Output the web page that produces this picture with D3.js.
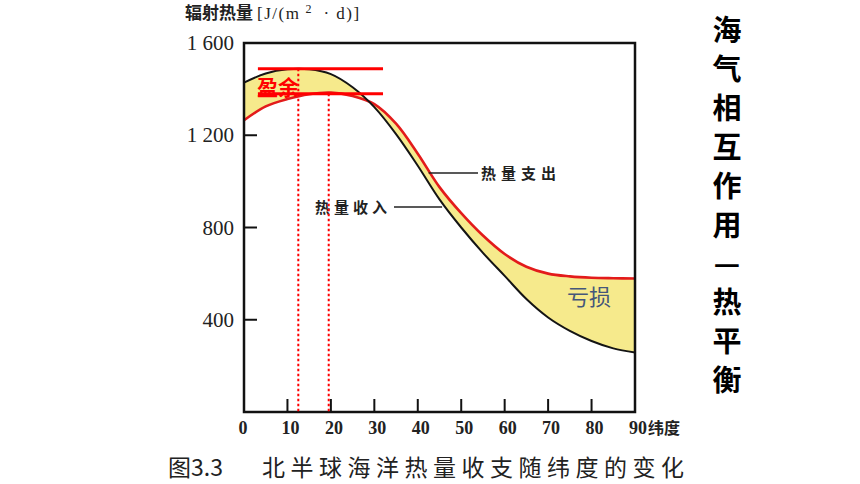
<!DOCTYPE html>
<html>
<head>
<meta charset="utf-8">
<script src="https://cdn.jsdelivr.net/npm/d3@7"></script>
<style>
  body { margin: 0; background: #fff; }
  svg { display: block; }
</style>
</head>
<body>
<div id="chart"></div>
<script>
// latitudes and the two curves
var latitudes = [0, 5, 10, 15, 20, 25, 30, 35, 40, 45, 50, 55, 60, 65, 70, 75, 80, 85, 90];
var income =      [1428, 1468, 1486, 1486, 1465, 1408, 1322, 1205, 1068, 922, 800, 690, 590, 490, 410, 352, 308, 276, 258];
var expenditure = [1265, 1325, 1357, 1378, 1385, 1370, 1335, 1250, 1120, 975, 862, 765, 685, 630, 600, 588, 582, 580, 579];

var xTicks = [0, 10, 20, 30, 40, 50, 60, 70, 80, 90];
var yTicks = [400, 800, 1200, 1600];
var yTickLabels = ["400", "800", "1 200", "1 600"];

// surplus markers (peak values and latitudes)
var peakIncome = 1488, peakIncomeLat = 12.5;
var peakExpend = 1380, peakExpendLat = 19.5;
var markerSpan = [3.2, 32];

var titleChars = ["海", "气", "相", "互", "作", "用", "—", "热", "平", "衡"];

let width = 860, height = 484;

let svg = d3.select("#chart").append("svg")
    .attr("width", width)
    .attr("height", height);

let x = d3.scaleLinear().domain([0, 90]).range([244, 635]);
let y = d3.scaleLinear().domain([0, 1600]).range([412, 43]);

let rows = latitudes.map((lat, i) => ({lat: lat, inc: income[i], exp: expenditure[i]}));
let curve = d3.curveCatmullRom.alpha(0.5);

// yellow band between the curves
svg.append("path")
    .datum(rows)
    .attr("fill", "#f6ea8c")
    .attr("d", d3.area()
        .x(d => x(d.lat))
        .y0(d => y(d.exp))
        .y1(d => y(d.inc))
        .curve(curve));

// heat expenditure (red)
svg.append("path")
    .datum(rows)
    .attr("fill", "none")
    .attr("stroke", "#e31b1b")
    .attr("stroke-width", 2.6)
    .attr("d", d3.line().x(d => x(d.lat)).y(d => y(d.exp)).curve(curve));

// heat income (black)
svg.append("path")
    .datum(rows)
    .attr("fill", "none")
    .attr("stroke", "#141414")
    .attr("stroke-width", 2)
    .attr("d", d3.line().x(d => x(d.lat)).y(d => y(d.inc)).curve(curve));

// frame
svg.append("rect")
    .attr("x", x(0))
    .attr("y", y(1600))
    .attr("width", x(90) - x(0))
    .attr("height", y(0) - y(1600))
    .attr("fill", "none")
    .attr("stroke", "#111")
    .attr("stroke-width", 2.5);

// inner ticks
svg.append("g").selectAll("line")
    .data(xTicks.slice(1, -1))
    .enter().append("line")
    .attr("x1", d => x(d)).attr("x2", d => x(d))
    .attr("y1", y(0)).attr("y2", y(0) - 13)
    .attr("stroke", "#111").attr("stroke-width", 2);

svg.append("g").selectAll("line")
    .data(yTicks.slice(0, -1))
    .enter().append("line")
    .attr("x1", x(0)).attr("x2", x(0) + 13)
    .attr("y1", d => y(d)).attr("y2", d => y(d))
    .attr("stroke", "#111").attr("stroke-width", 2);

// tick labels
svg.append("g").selectAll("text")
    .data(xTicks)
    .enter().append("text")
    .attr("x", d => x(d) + (d == 0 ? -1 : 3))
    .attr("y", 434)
    .attr("text-anchor", "middle")
    .attr("font-family", "Liberation Serif, serif")
    .attr("font-weight", "bold")
    .attr("font-size", 18)
    .attr("fill", "#222")
    .text(d => d);

svg.append("text")
    .attr("x", x(90) + 13)
    .attr("y", 434)
    .attr("font-family", "Noto Sans CJK SC, sans-serif")
    .attr("font-weight", "bold")
    .attr("font-size", 16)
    .attr("fill", "#222")
    .text("纬度");

svg.append("g").selectAll("text")
    .data(yTicks)
    .enter().append("text")
    .attr("x", 234)
    .attr("y", d => y(d) + 7)
    .attr("text-anchor", "end")
    .attr("font-family", "Liberation Serif, serif")
    .attr("font-size", 21)
    .attr("fill", "#222")
    .text((d, i) => yTickLabels[i]);

// y axis title
let yTitle = svg.append("text")
    .attr("x", 185)
    .attr("y", 19)
    .attr("fill", "#222");
yTitle.append("tspan")
    .attr("font-family", "Noto Sans CJK SC, sans-serif")
    .attr("font-weight", "bold")
    .attr("font-size", 17)
    .text("辐射热量");
yTitle.append("tspan")
    .attr("font-family", "Liberation Serif, serif")
    .attr("font-size", 17)
    .attr("dx", 4)
    .attr("letter-spacing", 1.5)
    .text("[J/(m");
yTitle.append("tspan")
    .attr("font-family", "Liberation Serif, serif")
    .attr("font-size", 12)
    .attr("dy", -6)
    .attr("dx", 5)
    .text("2");
yTitle.append("tspan")
    .attr("font-family", "Liberation Serif, serif")
    .attr("font-size", 17)
    .attr("dy", 6)
    .attr("dx", 12)
    .attr("letter-spacing", 1.5)
    .text("· d)]");

// curve labels with leader lines
svg.append("line")
    .attr("x1", x(42.5)).attr("x2", 478)
    .attr("y1", 173).attr("y2", 173)
    .attr("stroke", "#222").attr("stroke-width", 1.5);
svg.append("text")
    .attr("x", 481).attr("y", 179)
    .attr("font-family", "Noto Sans CJK SC, sans-serif")
    .attr("font-weight", "bold")
    .attr("font-size", 15)
    .attr("letter-spacing", 5)
    .attr("fill", "#222")
    .text("热量支出");

svg.append("line")
    .attr("x1", 394).attr("x2", x(45.6))
    .attr("y1", 207).attr("y2", 207)
    .attr("stroke", "#222").attr("stroke-width", 1.5);
svg.append("text")
    .attr("x", 391).attr("y", 213)
    .attr("text-anchor", "end")
    .attr("font-family", "Noto Sans CJK SC, sans-serif")
    .attr("font-weight", "bold")
    .attr("font-size", 15)
    .attr("letter-spacing", 4)
    .attr("fill", "#222")
    .text("热量收入");

// surplus annotation (red)
[[peakIncome, peakIncomeLat], [peakExpend, peakExpendLat]].forEach(p => {
    svg.append("line")
        .attr("x1", x(markerSpan[0])).attr("x2", x(markerSpan[1]))
        .attr("y1", y(p[0])).attr("y2", y(p[0]))
        .attr("stroke", "#ff0000").attr("stroke-width", 3);
    svg.append("line")
        .attr("x1", x(p[1])).attr("x2", x(p[1]))
        .attr("y1", y(p[0])).attr("y2", y(0))
        .attr("stroke", "#ff0000").attr("stroke-width", 2)
        .attr("stroke-dasharray", "2.5,2.5");
});

svg.append("text")
    .attr("x", 257).attr("y", 95)
    .attr("font-family", "Noto Sans CJK SC, sans-serif")
    .attr("font-weight", "bold")
    .attr("font-size", 21)
    .attr("fill", "#ff0000")
    .text("盈余");

svg.append("text")
    .attr("x", 567).attr("y", 305)
    .attr("font-family", "Noto Sans CJK SC, sans-serif")
    .attr("font-size", 22)
    .attr("fill", "#45577a")
    .text("亏损");

// caption
svg.append("text")
    .attr("x", 168).attr("y", 476)
    .attr("font-family", "Noto Sans CJK SC, sans-serif")
    .attr("font-size", 23)
    .attr("fill", "#222")
    .text("图3.3");
svg.append("text")
    .attr("x", 262).attr("y", 476)
    .attr("font-family", "Noto Sans CJK SC, sans-serif")
    .attr("font-size", 23)
    .attr("letter-spacing", 5.5)
    .attr("fill", "#222")
    .text("北半球海洋热量收支随纬度的变化");

// vertical title on the right
svg.append("g").selectAll("text")
    .data(titleChars)
    .enter().append("text")
    .attr("x", 727)
    .attr("y", (d, i) => 28 + i * 38.9)
    .attr("text-anchor", "middle")
    .attr("dominant-baseline", "central")
    .attr("font-family", "Noto Sans CJK SC, sans-serif")
    .attr("font-weight", "bold")
    .attr("font-size", 29)
    .attr("fill", "#000")
    .text(d => d);
</script>
</body>
</html>
